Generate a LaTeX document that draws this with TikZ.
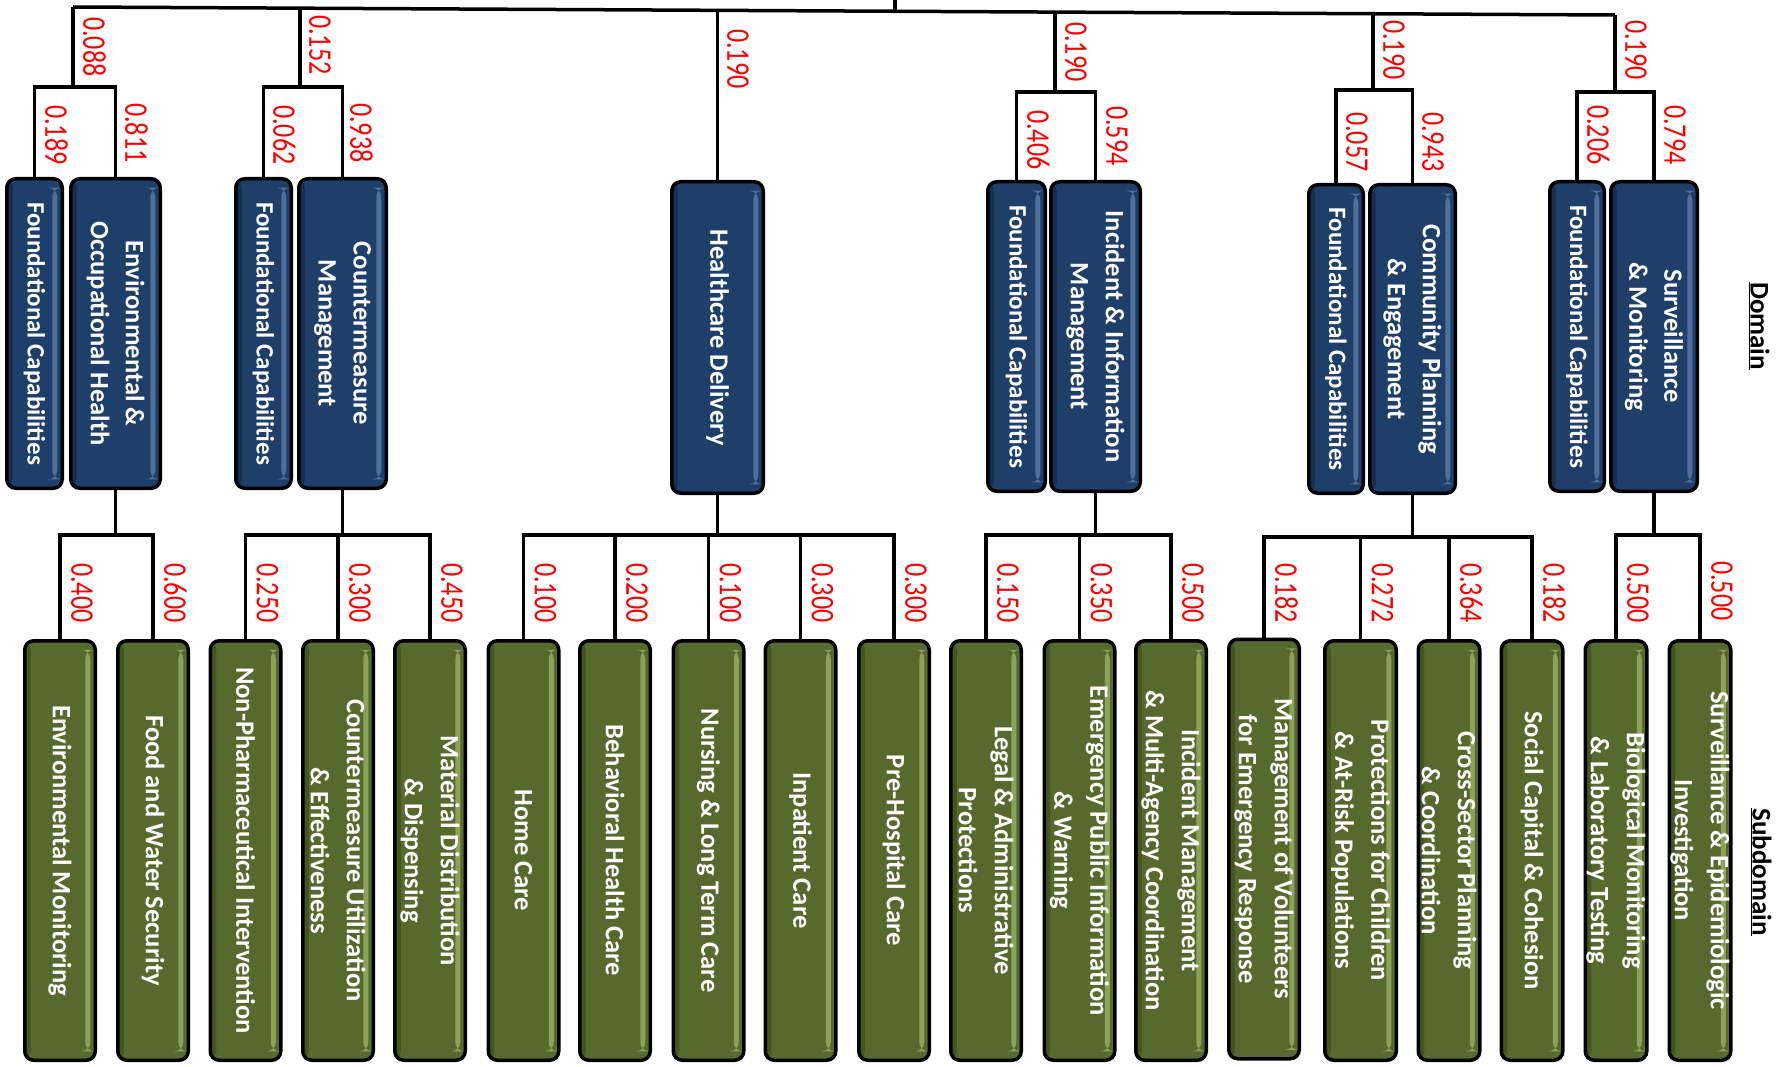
\documentclass[tikz,border=0pt]{standalone}
\usepackage{fontspec}
\setmainfont{Carlito}
\newfontfamily\numfont[FakeStretch=0.79]{Carlito}
\definecolor{domblue}{HTML}{1F3F6B}
\definecolor{domhl}{HTML}{4E709D}
\definecolor{domsh}{HTML}{162E50}
\definecolor{subgreen}{HTML}{566A2E}
\definecolor{subhl}{HTML}{8CA25A}
\definecolor{subsh}{HTML}{44551F}
\definecolor{lblred}{HTML}{FF0000}
\tikzset{
  conn/.style={line width=3.5pt, draw=black},
  bevel/.style 2 args={path picture={
    \fill[#1] ([xshift=-10pt,yshift=-9pt]path picture bounding box.north east) rectangle ([xshift=-5pt,yshift=9pt]path picture bounding box.south east);
    \fill[#2] (path picture bounding box.north west) rectangle ([xshift=6pt]path picture bounding box.south west);
  }},
  boxbase/.style={draw=black, line width=3.5pt, rounded corners=9pt, inner sep=0pt},
  dombox/.style={boxbase, fill=domblue, bevel={domhl}{domsh}},
  subbox/.style={boxbase, fill=subgreen, bevel={subhl}{subsh}, minimum height=419.5pt},
  domtext/.style={rotate=-90, text=white, align=center, inner sep=0pt, font=\bfseries\fontsize{26.5}{35}\selectfont},
  fctext/.style={domtext, font=\bfseries\fontsize{25}{34}\selectfont},
  subtext/.style={rotate=-90, text=white, align=center, inner sep=0pt, font=\bfseries\fontsize{26.5}{36}\selectfont},
  numlbl/.style={rotate=-90, text=lblred, inner sep=0pt, anchor=south west, font=\numfont\fontsize{33}{33}\selectfont},
  headlbl/.style={rotate=-90, inner sep=0pt, font=\bfseries\fontsize{27}{30}\selectfont},
}
\begin{document}
\begin{tikzpicture}[x=1pt,y=-1pt]
\useasboundingbox (0,0) rectangle (1777,1067);

% ---------- domain boxes ----------
\node[dombox, minimum width=55.5pt, minimum height=309.5pt] (fc1) at (34.5,333.5) {};
\node[dombox, minimum width=89.5pt, minimum height=309.5pt] (eoh) at (115.5,333.5) {};
\node[dombox, minimum width=55.5pt, minimum height=309.5pt] (fc2) at (263.5,333.5) {};
\node[dombox, minimum width=87.5pt, minimum height=309.5pt] (cm) at (342.5,333.5) {};
\node[dombox, minimum width=91.5pt, minimum height=311.5pt] (hd) at (717.5,337.5) {};
\node[dombox, minimum width=57.5pt, minimum height=309.5pt] (fc4) at (1016.5,336.5) {};
\node[dombox, minimum width=89.5pt, minimum height=309.5pt] (iim) at (1095.5,336.5) {};
\node[dombox, minimum width=54.5pt, minimum height=308.5pt] (fc5) at (1336,339) {};
\node[dombox, minimum width=85.5pt, minimum height=308.5pt] (cpe) at (1412.5,339) {};
\node[dombox, minimum width=54.5pt, minimum height=309.5pt] (fc6) at (1577,336.5) {};
\node[dombox, minimum width=86.5pt, minimum height=309.5pt] (sm) at (1654,336.5) {};

\node[fctext] at (fc1.center) {Foundational Capabilities};
\node[domtext] at (eoh.center) {Environmental \&\\Occupational Health};
\node[fctext] at (fc2.center) {Foundational Capabilities};
\node[domtext] at (cm.center) {Countermeasure\\Management};
\node[domtext] at (hd.center) {Healthcare Delivery};
\node[fctext] at (fc4.center) {Foundational Capabilities};
\node[domtext] at (iim.center) {Incident \& Information\\Management};
\node[fctext] at (fc5.center) {Foundational Capabilities};
\node[domtext] at (cpe.center) {Community Planning\\\& Engagement};
\node[fctext] at (fc6.center) {Foundational Capabilities};
\node[domtext] at (sm.center) {Surveillance\\\& Monitoring};

% ---------- subdomain boxes ----------
\node[subbox, minimum width=70.5pt] (s1) at (60,850.5) {};
\node[subbox, minimum width=70.5pt] (s2) at (153,850.5) {};
\node[subbox, minimum width=70.5pt] (s3) at (245.5,850.5) {};
\node[subbox, minimum width=70.5pt] (s4) at (338,850.5) {};
\node[subbox, minimum width=70.5pt] (s5) at (430,850.5) {};
\node[subbox, minimum width=70.5pt] (s6) at (523.5,850.5) {};
\node[subbox, minimum width=70.5pt] (s7) at (615,850.5) {};
\node[subbox, minimum width=70.5pt] (s8) at (708.5,850.5) {};
\node[subbox, minimum width=70.5pt] (s9) at (800.5,850.5) {};
\node[subbox, minimum width=70.5pt] (s10) at (894,850.5) {};
\node[subbox, minimum width=70.5pt] (s11) at (986,850.5) {};
\node[subbox, minimum width=70.5pt] (s12) at (1079.5,850.5) {};
\node[subbox, minimum width=70.5pt] (s13) at (1171,850.5) {};
\node[subbox, minimum width=70.5pt] (s14) at (1264,849) {};
\node[subbox, minimum width=71.5pt] (s15) at (1360.5,850.5) {};
\node[subbox, minimum width=61.5pt] (s16) at (1449,850.5) {};
\node[subbox, minimum width=61.5pt] (s17) at (1532,850.5) {};
\node[subbox, minimum width=61.5pt] (s18) at (1616,850.5) {};
\node[subbox, minimum width=61.5pt] (s19) at (1700,850.5) {};

\node[subtext] at (s1.center) {Environmental Monitoring};
\node[subtext] at (s2.center) {Food and Water Security};
\node[subtext] at (s3.center) {Non-Pharmaceutical Intervention};
\node[subtext] at (s4.center) {Countermeasure Utilization\\\& Effectiveness};
\node[subtext] at (s5.center) {Material Distribution\\\& Dispensing};
\node[subtext] at (s6.center) {Home Care};
\node[subtext] at (s7.center) {Behavioral Health Care};
\node[subtext] at (s8.center) {Nursing \& Long Term Care};
\node[subtext] at (s9.center) {Inpatient Care};
\node[subtext] at (s10.center) {Pre-Hospital Care};
\node[subtext] at (s11.center) {Legal \& Administrative\\Protections};
\node[subtext] at (s12.center) {Emergency Public Information\\\& Warning};
\node[subtext] at (s13.center) {Incident Management\\\& Multi-Agency Coordination};
\node[subtext] at (s14.center) {Management of Volunteers\\for Emergency Response};
\node[subtext] at (s15.center) {Protections for Children\\\& At-Risk Populations};
\node[subtext] at (s16.center) {Cross-Sector Planning\\\& Coordination};
\node[subtext] at (s17.center) {Social Capital \& Cohesion};
\node[subtext] at (s18.center) {Biological Monitoring\\\& Laboratory Testing};
\node[subtext] at (s19.center) {Surveillance \& Epidemiologic\\Investigation};

% ---------- root and top connectors ----------
\coordinate (root) at (895,0);
\coordinate (t1) at (73,7);
\coordinate (t2) at (300,8.2);
\coordinate (t3) at (717.5,10.3);
\coordinate (tr) at (895,11.3);
\coordinate (t4) at (1055,12.1);
\coordinate (t5) at (1373,13.7);
\coordinate (t6) at (1615,15);
\draw[conn] (t1) -- (t6);
\draw[conn] (root) -- (tr);

\coordinate (g1) at (73,87);
\coordinate (g2) at (300,87);
\coordinate (g4) at (1055,92);
\coordinate (g5) at (1373,90);
\coordinate (g6) at (1615,92);
\draw[conn] (t1) -- (g1);
\draw[conn] (t2) -- (g2);
\draw[conn] (t4) -- (g4);
\draw[conn] (t5) -- (g5);
\draw[conn] (t6) -- (g6);
\draw[conn] (fc1.north) |- (g1) -| (eoh.north);
\draw[conn] (fc2.north) |- (g2) -| (cm.north);
\draw[conn] (fc4.north) |- (g4) -| (iim.north);
\draw[conn] (fc5.north) |- (g5) -| (cpe.north);
\draw[conn] (fc6.north) |- (g6) -| (sm.north);
\draw[conn] (t3) -- (hd.north);

% ---------- bottom connectors ----------
\coordinate (b1) at (115.5,535);
\coordinate (b2) at (342.5,535);
\coordinate (b3) at (717.5,535);
\coordinate (b4) at (1095.5,535);
\coordinate (b5) at (1412.5,537);
\coordinate (b6) at (1654,535);
\draw[conn] (eoh.south) -- (b1);
\draw[conn] (cm.south) -- (b2);
\draw[conn] (hd.south) -- (b3);
\draw[conn] (iim.south) -- (b4);
\draw[conn] (cpe.south) -- (b5);
\draw[conn] (sm.south) -- (b6);
\draw[conn] (s1.north) |- (b1) -| (s2.north);
\draw[conn] (s3.north) |- (b2) -| (s5.north);
\draw[conn] (s4.north) -- (s4.north |- b2);
\draw[conn] (s6.north) |- (b3) -| (s10.north);
\draw[conn] (s7.north) -- (s7.north |- b3);
\draw[conn] (s8.north) -- (s8.north |- b3);
\draw[conn] (s9.north) -- (s9.north |- b3);
\draw[conn] (s11.north) |- (b4) -| (s13.north);
\draw[conn] (s12.north) -- (s12.north |- b4);
\draw[conn] (s14.north) |- (b5) -| (s17.north);
\draw[conn] (s15.north) -- (s15.north |- b5);
\draw[conn] (s16.north) -- (s16.north |- b5);
\draw[conn] (s18.north) |- (b6) -| (s19.north);

% ---------- weights ----------
\node[numlbl] (w1) at (83,17) {0.088};
\node[numlbl] (w2) at (309,15) {0.152};
\node[numlbl] (w3) at (727,29) {0.190};
\node[numlbl] (w4) at (1065,22) {0.190};
\node[numlbl] (w5) at (1383,20) {0.190};
\node[numlbl] (w6) at (1625,20) {0.190};

\node[numlbl] at (45,105) {0.189};
\node[numlbl] at (125,103) {0.811};
\node[numlbl] at (273,105) {0.062};
\node[numlbl] at (350,103) {0.938};
\node[numlbl] at (1027,110) {0.406};
\node[numlbl] at (1106,106) {0.594};
\node[numlbl] at (1346,112) {0.057};
\node[numlbl] at (1422,112) {0.943};
\node[numlbl] at (1587,105) {0.206};
\node[numlbl] at (1664,105) {0.794};

\node[numlbl] at (71,563) {0.400};
\node[numlbl] at (164,563) {0.600};
\node[numlbl] at (256.5,563) {0.250};
\node[numlbl] at (349,563) {0.300};
\node[numlbl] at (441,563) {0.450};
\node[numlbl] at (534.5,563) {0.100};
\node[numlbl] at (626,563) {0.200};
\node[numlbl] at (719.5,563) {0.100};
\node[numlbl] at (811.5,563) {0.300};
\node[numlbl] at (905,563) {0.300};
\node[numlbl] at (997,563) {0.150};
\node[numlbl] at (1090.5,563) {0.350};
\node[numlbl] at (1182,563) {0.500};
\node[numlbl] at (1275,563) {0.182};
\node[numlbl] at (1371.5,563) {0.272};
\node[numlbl] at (1460,563) {0.364};
\node[numlbl] at (1543,563) {0.182};
\node[numlbl] at (1627,563) {0.500};
\node[numlbl] at (1711,561) {0.500};

% ---------- level headings ----------
\node[headlbl] (domlbl) at (1759,326) {\underline{Domain}};
\node[headlbl] (sublbl) at (1761,872) {\underline{Subdomain}};
\end{tikzpicture}
\end{document}
